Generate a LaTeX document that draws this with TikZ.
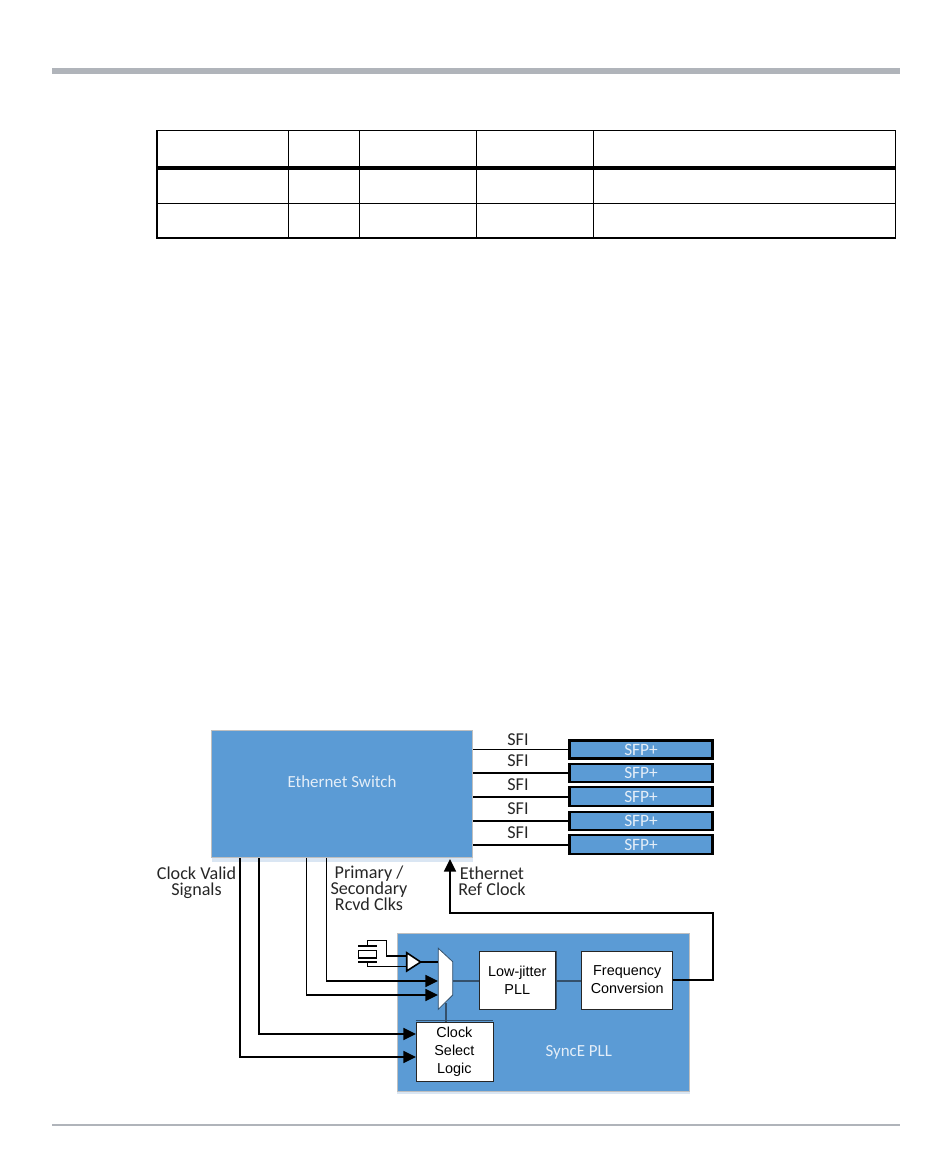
\documentclass[tikz,border=0pt]{standalone}
\usepackage{fontspec}
\setmainfont{Carlito}
\newfontfamily\arialfont{Liberation Sans}
\usetikzlibrary{calc,arrows.meta}
\definecolor{swblue}{HTML}{5B9BD5}
\definecolor{paleblue}{HTML}{DAE6F3}
\definecolor{barGray}{HTML}{B0B4BA}
\definecolor{wireDark}{HTML}{34506B}
\definecolor{txtPale}{HTML}{E4EEF8}
\tikzset{
	blockbox/.style={draw=black!25, line width=0.5pt, fill=swblue, inner sep=0pt},
	sfpbox/.style={draw=black, line width=1.7pt, fill=swblue, text=txtPale, inner sep=0pt, minimum width=143*0.75pt, font=\fontsize{13}{13}\selectfont},
	whitebox/.style={draw=black!85, line width=0.6pt, fill=white, inner sep=0pt, align=center, font=\arialfont\fontsize{10.8}{13.5}\selectfont},
	paletxt/.style={text=txtPale, font=\fontsize{12.7}{12.7}\selectfont},
	lbl/.style={text=black!85, align=center, inner sep=0pt, font=\fontsize{13.6}{12}\selectfont},
	wire/.style={line width=1.15pt, black},
	sigarrow/.style={line width=1.25pt, black, -{Triangle[length=9.5pt,width=9pt]}},
	innerwire/.style={line width=1.1pt, wireDark},
	darkedge/.style={line width=1.1pt, wireDark}
}
\begin{document}
\begin{tikzpicture}[x=0.75pt,y=-0.75pt]
			\useasboundingbox (0,0) rectangle (950,1153);
			
			%page rules
			\fill[barGray] (52,68) rectangle (900,74);
			\draw[barGray, line width=1pt] (52,1125) -- (900,1125);
			
			%table
			\draw[line width=0.8pt] (157,130.5) rectangle (895.5,238);
			\draw[line width=3pt] (156.5,168) -- (896,168);
			\draw[line width=0.8pt] (157,203.5) -- (895.5,203.5);
			\draw[line width=0.5pt] (288,130) -- (288,238);
			\draw[line width=0.5pt] (359.5,130) -- (359.5,238);
			\draw[line width=0.5pt] (476.5,130) -- (476.5,238);
			\draw[line width=0.5pt] (593.5,130) -- (593.5,238);
			
			%switch block
			\fill[paleblue] (212,856) rectangle (473,862);
			\node[blockbox, minimum width=261*0.75pt, minimum height=127*0.75pt] (switch) at (342.3,794.2) {};
			\node[paletxt] (switchtxt) at (342,782) {Ethernet Switch};
			
			%sfp modules
			\node[sfpbox, minimum height=18*0.75pt] (sfpA) at (641,749.5) {SFP+};
			\node[sfpbox, minimum height=18*0.75pt] (sfpB) at (641,773) {SFP+};
			\node[sfpbox, minimum height=19*0.75pt] (sfpC) at (641,796.8) {SFP+};
			\node[sfpbox, minimum height=18*0.75pt] (sfpD) at (641,821) {SFP+};
			\node[sfpbox, minimum height=19*0.75pt] (sfpE) at (641,844.8) {SFP+};
			
			%sfi links
			\draw[wire] (switch.east |- sfpA.west) -- (sfpA.west);
			\draw[wire] (switch.east |- sfpB.west) -- (sfpB.west);
			\draw[wire] (switch.east |- sfpC.west) -- (sfpC.west);
			\draw[wire] (switch.east |- sfpD.west) -- (sfpD.west);
			\draw[wire] (switch.east |- sfpE.west) -- (sfpE.west);
			\node[lbl] (sfiA) at (518,740) {SFI};
			\node[lbl] (sfiB) at (518,761) {SFI};
			\node[lbl] (sfiC) at (518,785) {SFI};
			\node[lbl] (sfiD) at (518,809) {SFI};
			\node[lbl] (sfiE) at (518,833) {SFI};
			
			%pll block
			\fill[paleblue] (397,1088) rectangle (690,1094);
			\node[blockbox, minimum width=292*0.75pt, minimum height=158*0.75pt] (pll) at (543.2,1012) {};
			\node[paletxt] (plltxt) at (578.7,1052.7) {SyncE PLL};
			\node[whitebox, minimum width=76*0.75pt, minimum height=58*0.75pt] (jitter) at (517.3,980) {Low-jitter\\PLL};
			\node[whitebox, minimum width=91*0.75pt, minimum height=58*0.75pt] (freq) at (627.2,980) {Frequency\\Conversion};
			\node[whitebox, minimum width=77*0.75pt, minimum height=59*0.75pt] (clksel) at (454.4,1051.6) {Clock\\Select\\Logic};
			\draw[darkedge] ($(jitter.north east)+(1,0)$) -- ($(jitter.south east)+(1,0)$);
			\draw[darkedge] ($(clksel.north west)+(0,-1)$) -- ($(clksel.north east)+(0,-1)$);
			
			%mux
			\coordinate (M1) at (438.3,948.3);
			\coordinate (M2) at (452.7,961.7);
			\coordinate (M3) at (452.7,995);
			\coordinate (M4) at (438.3,1009.3);
			\coordinate (Mout) at (452.7,981);
			\coordinate (Msel) at (446,1003);
			\coordinate (MbufIn) at (438.3,962);
			\coordinate (MpriIn) at (438,981);
			\coordinate (MsecIn) at (438,995);
			\draw[innerwire] (Mout) -- (Mout -| jitter.west);
			\draw[innerwire] (Mout -| jitter.east) -- (Mout -| freq.west);
			\draw[innerwire] (Msel) -- (Msel |- clksel.north);
			\draw[fill=white, draw=wireDark, line width=0.6pt] (M1) -- (M2) -- (M3) -- (M4) -- cycle;
			
			%crystal and buffer
			\coordinate (B1) at (406.7,952.7);
			\coordinate (B2) at (420.7,962);
			\coordinate (B3) at (406.7,971);
			\coordinate (Xtop) at (367.3,945.7);
			\coordinate (Xbot) at (367.3,961.7);
			\coordinate (Bup) at (406.7,956);
			\coordinate (Bdn) at (406.7,966.7);
			\draw[wire] (Xtop) -- (367.3,940.7) -- (386.7,940.7) -- (386.7,956) -- (Bup);
			\draw[wire] (Xbot) -- (Xbot |- Bdn) -- (Bdn);
			\draw[wire] (B2) -- (MbufIn);
			\draw[fill=white, line width=1.2pt] (B1) -- (B2) -- (B3) -- cycle;
			\draw[line width=1.3pt] (358.3,945.7) -- (376.7,945.7);
			\draw[line width=1.3pt] (358.3,961.7) -- (376.7,961.7);
			\draw[fill=white, line width=1.1pt] (358.7,950.7) rectangle (376.5,958);
			
			%clock signals
			\coordinate (swA) at (240,858);
			\coordinate (swB) at (259,858);
			\coordinate (swC) at (306.5,858);
			\coordinate (swD) at (326.5,858);
			\coordinate (selA) at (416,1034);
			\coordinate (selB) at (416,1057);
			\draw[sigarrow] (swD) |- (MpriIn);
			\draw[sigarrow] (swC) |- (MsecIn);
			\draw[sigarrow] (swB) |- (selA);
			\draw[sigarrow] (swA) |- (selB);
			
			%ref clock back to switch
			\coordinate (swRef) at (450,859);
			\draw[sigarrow] (freq.east) -- (712.7,980) -- (712.7,913.3) -- (450,913.3) -- (swRef);
			
			%labels
			\node[lbl] (validtxt) at (196.5,883) {Clock Valid\\Signals};
			\node[lbl] (rcvdtxt) at (369,888) {Primary /\\Secondary\\Rcvd Clks};
			\node[lbl] (reftxt) at (492,881) {Ethernet\\Ref Clock};
		\end{tikzpicture}
\end{document}
